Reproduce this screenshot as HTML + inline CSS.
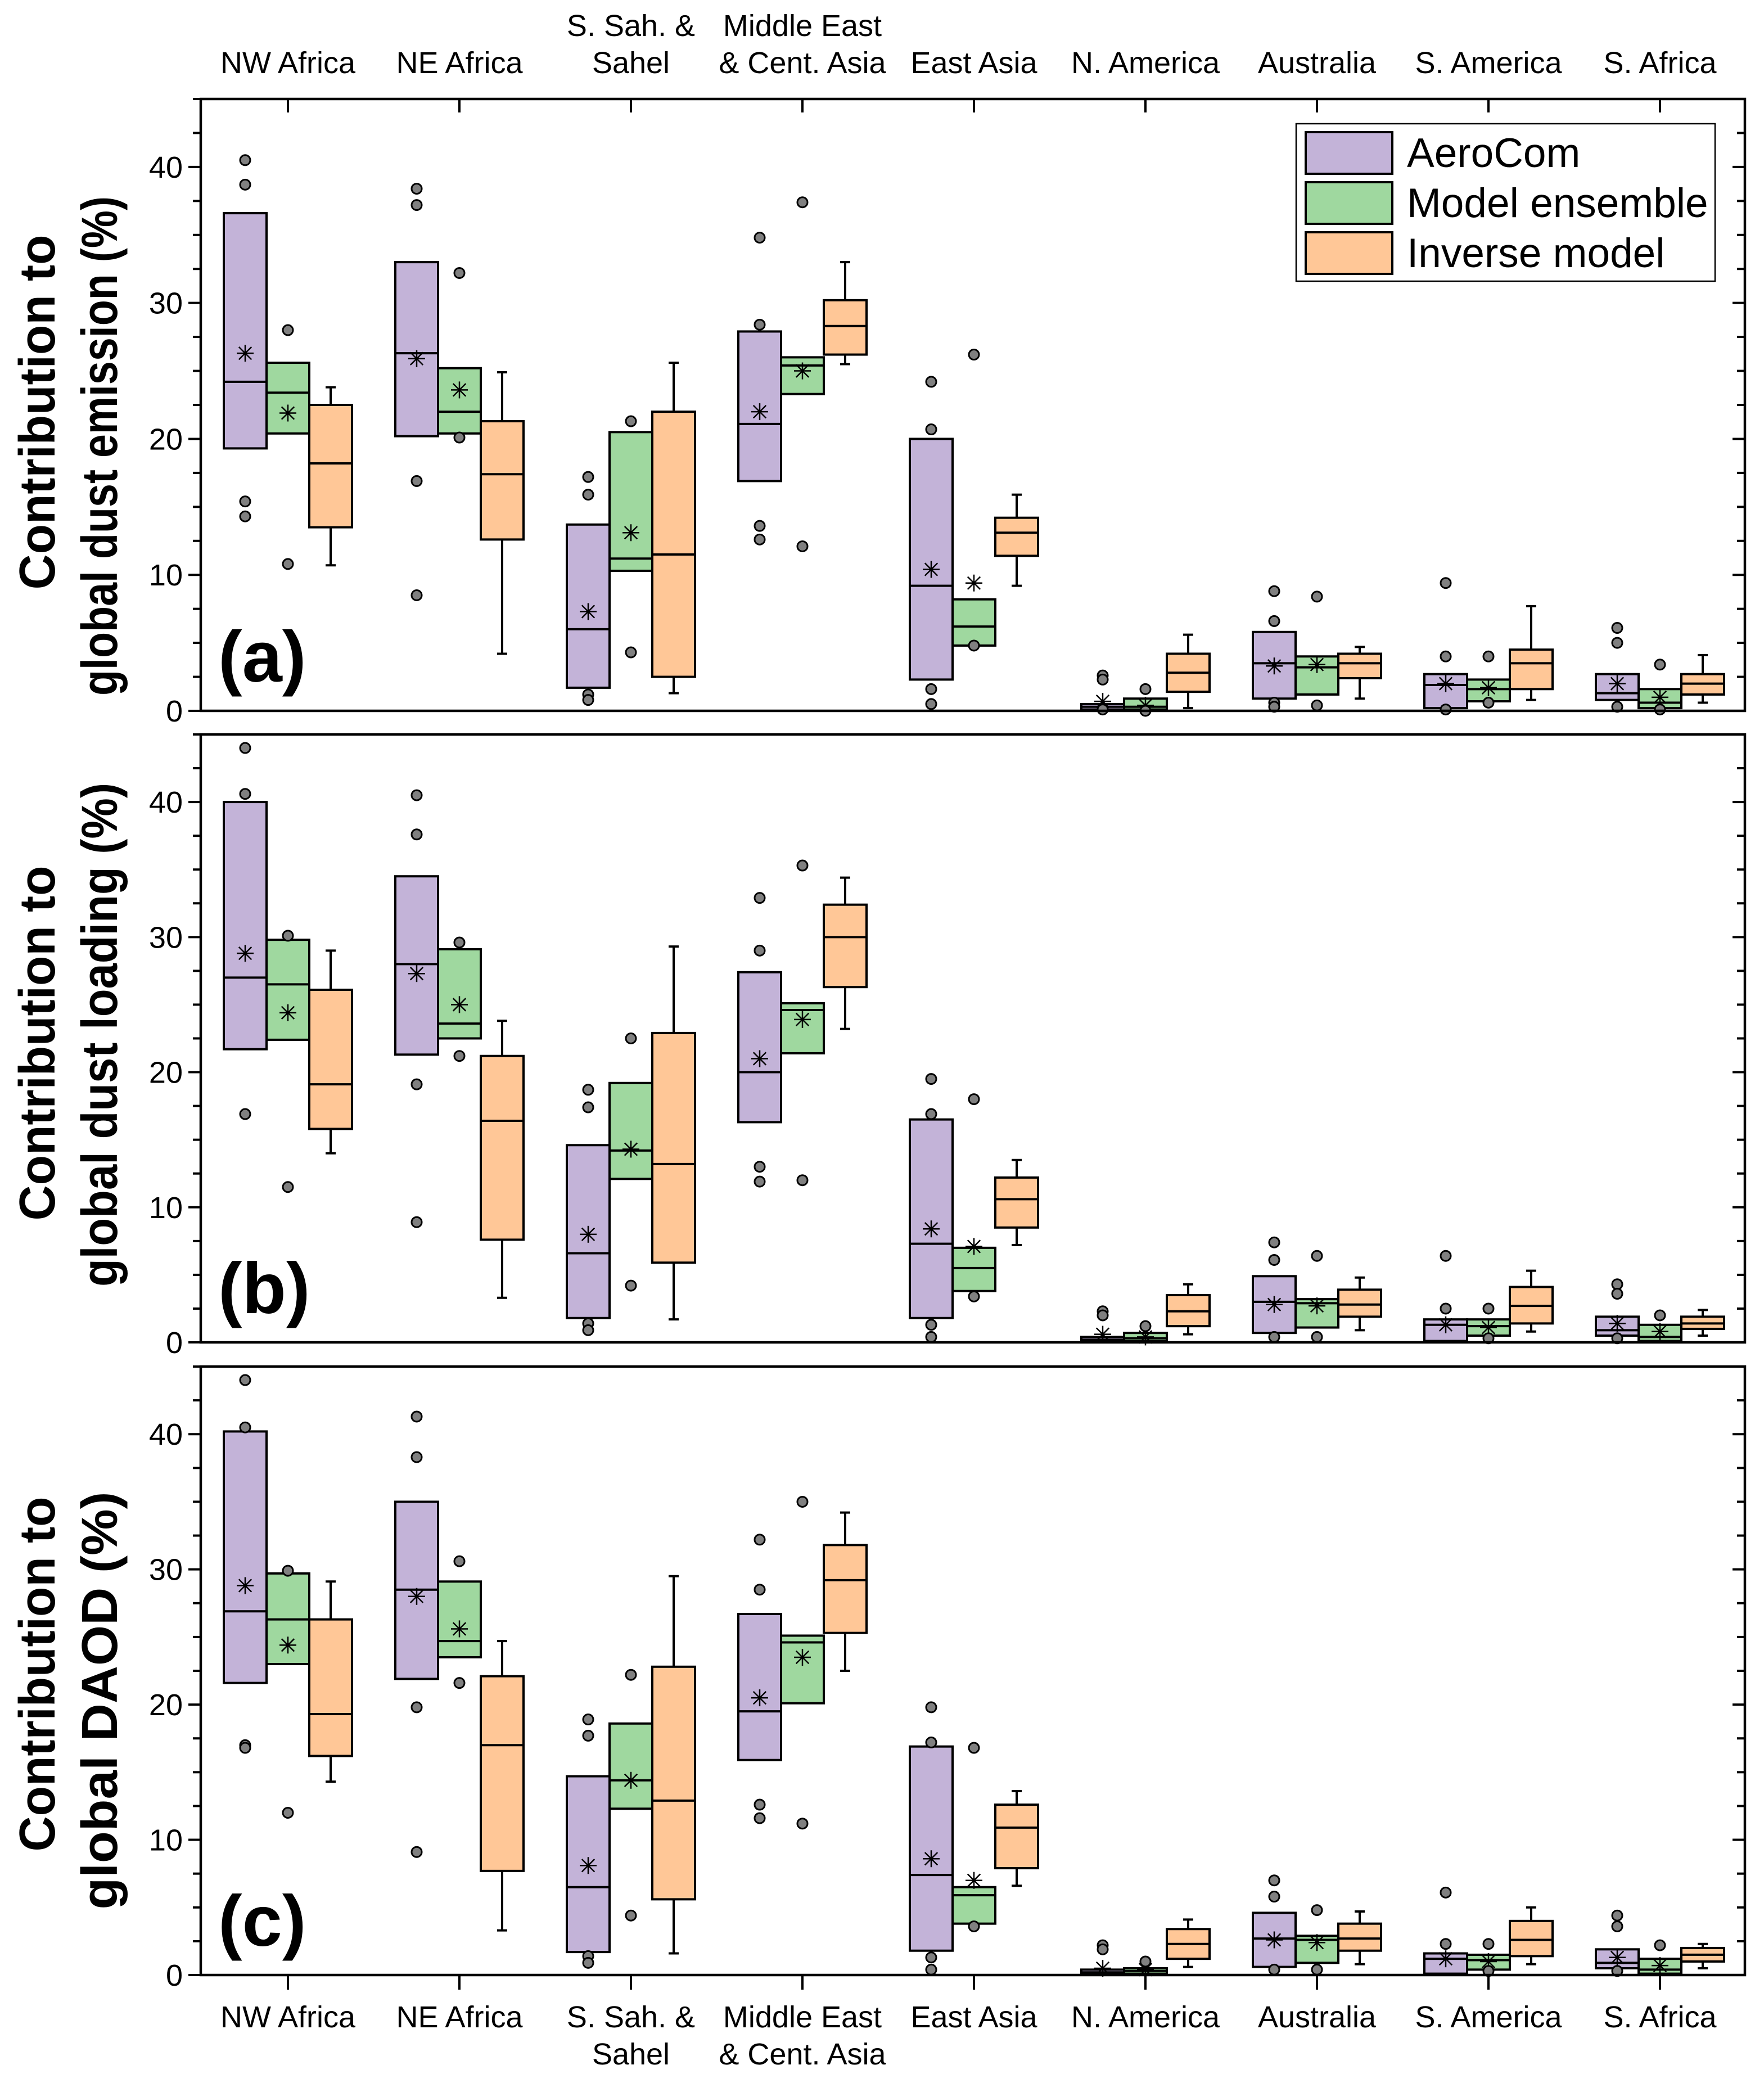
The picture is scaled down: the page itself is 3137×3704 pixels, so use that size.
<!DOCTYPE html>
<html><head><meta charset="utf-8">
<style>
html,body{margin:0;padding:0;background:#fff;}
svg{display:block;font-family:"Liberation Sans",Arial,sans-serif;}
</style></head>
<body>
<svg id="chart" width="3137" height="3704" viewBox="0 0 3137 3704" xmlns="http://www.w3.org/2000/svg"></svg>
<script>
// ---- data ----
const categories = ["NW Africa","NE Africa","S. Sah. &|Sahel","Middle East|& Cent. Asia","East Asia","N. America","Australia","S. America","S. Africa"];
const seriesNames = ["AeroCom","Model ensemble","Inverse model"];
const panelLabels = ["(a)","(b)","(c)"];
const panelTitles = [["Contribution to","global dust emission (%)"],["Contribution to","global dust loading (%)"],["Contribution to","global DAOD (%)"]];
const yTicks = [0,10,20,30,40];
// Panel a - emission: [q1, median, q3, mean]
const aAeroBox = [[19.3,24.2,36.6,26.3],[20.2,26.3,33.0,25.9],[1.7,6.0,13.7,7.3],[16.9,21.1,27.9,22.0],[2.3,9.2,20.0,10.4],[0.1,0.3,0.5,0.7],[0.9,3.5,5.8,3.3],[0.2,1.9,2.7,2.0],[0.8,1.3,2.7,2.0]];
const aAeroOut = [[40.5,38.7,15.4,14.3],[38.4,37.2,16.9,8.5],[17.2,15.9,1.2,0.8],[34.8,28.4,13.6,12.6],[24.2,20.7,1.6,0.5],[2.6,2.3,0.1],[8.8,6.6,0.6,0.3],[9.4,4.0,0.1],[6.1,5.0,0.3]];
const aEnsBox = [[20.4,23.4,25.6,21.9],[20.4,22.0,25.2,23.6],[10.3,11.2,20.5,13.1],[23.3,25.4,26.0,25.0],[4.8,6.2,8.2,9.4],[0.1,0.3,0.9,0.4],[1.2,3.2,4.0,3.4],[0.7,1.6,2.3,1.7],[0.2,0.6,1.6,1.0]];
const aEnsOut = [[28.0,10.8],[32.2,20.1],[21.3,4.3],[37.4,12.1],[26.2,4.8],[1.6,0.0],[8.4,0.4],[4.0,0.6],[3.4,0.1]];
const aInvBox = [[13.5,18.2,22.5],[12.6,17.4,21.3],[2.5,11.5,22.0],[26.2,28.3,30.2],[11.4,13.1,14.2],[1.4,2.8,4.2],[2.4,3.5,4.2],[1.6,3.5,4.5],[1.2,2.0,2.7]];
const aInvWhisk = [[10.7,23.8],[4.2,24.9],[1.3,25.6],[25.5,33.0],[9.2,15.9],[0.2,5.6],[0.9,4.7],[0.8,7.7],[0.6,4.1]];
// Panel b - loading
const bAeroBox = [[21.7,27.0,40.0,28.8],[21.3,28.0,34.5,27.3],[1.8,6.6,14.6,8.0],[16.3,20.0,27.4,21.0],[1.8,7.3,16.5,8.4],[0.1,0.2,0.4,0.6],[0.7,3.0,4.9,2.8],[0.1,1.3,1.7,1.3],[0.5,0.9,1.9,1.4]];
const bAeroOut = [[44.0,40.6,16.9],[40.5,37.6,19.1,8.9],[18.7,17.4,1.4,0.9],[32.9,29.0,13.0,11.9],[19.5,16.9,1.3,0.4],[2.3,2.0],[7.4,6.1,0.4],[6.4,2.5],[4.3,3.6,0.3]];
const bEnsBox = [[22.4,26.5,29.8,24.4],[22.5,23.6,29.1,25.0],[12.1,14.2,19.2,14.3],[21.4,24.6,25.1,23.9],[3.8,5.5,7.0,7.1],[0.1,0.3,0.7,0.4],[1.1,2.9,3.2,2.7],[0.5,1.2,1.7,1.1],[0.1,0.4,1.3,0.8]];
const bEnsOut = [[30.1,11.5],[29.6,21.2],[22.5,4.2],[35.3,12.0],[18.0,3.4],[1.2],[6.4,0.4],[2.5,0.3],[2.0]];
const bInvBox = [[15.8,19.1,26.1],[7.6,16.4,21.2],[5.9,13.2,22.9],[26.3,30.0,32.4],[8.5,10.6,12.2],[1.2,2.3,3.5],[1.9,2.8,3.9],[1.4,2.7,4.1],[1.0,1.4,1.9]];
const bInvWhisk = [[14.0,29.0],[3.3,23.8],[1.7,29.3],[23.2,34.4],[7.2,13.5],[0.6,4.3],[0.9,4.8],[0.8,5.3],[0.5,2.4]];
// Panel c - DAOD
const cAeroBox = [[21.6,26.9,40.2,28.8],[21.9,28.5,35.0,28.0],[1.7,6.5,14.7,8.1],[15.9,19.5,26.7,20.5],[1.8,7.4,16.9,8.6],[0.1,0.2,0.4,0.5],[0.6,2.7,4.6,2.6],[0.1,1.2,1.6,1.2],[0.5,0.9,1.9,1.3]];
const cAeroOut = [[44.0,40.5,17.0,16.8],[41.3,38.3,19.8,9.1],[18.9,17.7,1.4,0.9],[32.2,28.5,12.6,11.6],[19.8,17.2,1.3,0.4],[2.2,1.9],[7.0,5.8,0.4],[6.1,2.3],[4.4,3.6,0.3]];
const cEnsBox = [[23.0,26.3,29.7,24.4],[23.5,24.7,29.1,25.6],[12.3,14.4,18.6,14.4],[20.1,24.6,25.1,23.5],[3.8,5.9,6.5,7.0],[0.1,0.3,0.5,0.4],[0.9,2.6,2.9,2.4],[0.4,1.1,1.5,1.0],[0.1,0.4,1.2,0.7]];
const cEnsOut = [[29.9,12.0],[30.6,21.6],[22.2,4.4],[35.0,11.2],[16.8,3.6],[1.0],[4.8,0.4],[2.3,0.3],[2.2]];
const cInvBox = [[16.2,19.3,26.3],[7.7,17.0,22.1],[5.6,12.9,22.8],[25.3,29.2,31.8],[7.9,10.9,12.6],[1.2,2.3,3.4],[1.8,2.7,3.8],[1.4,2.6,4.0],[1.0,1.5,2.0]];
const cInvWhisk = [[14.3,29.1],[3.3,24.7],[1.6,29.5],[22.5,34.2],[6.6,13.6],[0.6,4.1],[0.8,4.7],[0.8,5.0],[0.5,2.3]];

const panels = [
 {aero:aAeroBox,aeroOut:aAeroOut,ens:aEnsBox,ensOut:aEnsOut,inv:aInvBox,invW:aInvWhisk,top:176,bottom:1264,t1c:733,t2c:793,t2len:888},
 {aero:bAeroBox,aeroOut:bAeroOut,ens:bEnsBox,ensOut:bEnsOut,inv:bInvBox,invW:bInvWhisk,top:1306,bottom:2387,t1c:1855,t2c:1840,t2len:896},
 {aero:cAeroBox,aeroOut:cAeroOut,ens:cEnsBox,ensOut:cEnsOut,inv:cInvBox,invW:cInvWhisk,top:2430,bottom:3512,t1c:2977,t2c:3024,t2len:743}
];
const colors = ["#c3b3d8","#9fd89f","#ffc797"];
const NS="http://www.w3.org/2000/svg";
const svg=document.getElementById('chart');
const L=357,R=3103,X0=512,DX=305,BW=76,YMAX=45;
function xc(i){return X0+i*DX;}
function mk(tag,attrs,parent){const e=document.createElementNS(NS,tag);for(const k in attrs)e.setAttribute(k,attrs[k]);(parent||svg).appendChild(e);return e;}

panels.forEach((p,pi)=>{
  const g=mk('g',{});
  
  
  const y=v=>p.bottom-(v/YMAX)*(p.bottom-p.top);
  for(let v=0;v<=YMAX;v+=2.5){
    const major=v%10===0;
    const t=mk('line',{x1:L-(major?22:14),x2:L,y1:y(v),y2:y(v),stroke:'#000','stroke-width':4},g);
    
    
    mk('line',{x1:R-(major?22:14),x2:R,y1:y(v),y2:y(v),stroke:'#000','stroke-width':4},g);
  }
  yTicks.forEach(v=>{
    const t=mk('text',{x:L-32,y:y(v)+19,'text-anchor':'end','font-size':54},g);
    t.textContent=v;
    
    
  });
  categories.forEach((c,i)=>{
    if(pi===0) mk('line',{x1:xc(i),x2:xc(i),y1:p.top,y2:p.top+24,stroke:'#000','stroke-width':4},g);
    if(pi===2) mk('line',{x1:xc(i),x2:xc(i),y1:p.bottom,y2:p.bottom+26,stroke:'#000','stroke-width':4},g);
  });
  const drawBox=(cx,q1,med,q3,col,name)=>{
    const r=mk('rect',{x:cx-BW/2,y:y(q3),width:BW,height:Math.max(y(q1)-y(q3),1),fill:col,stroke:'#000','stroke-width':4},g);
    
    
    mk('line',{x1:cx-BW/2,x2:cx+BW/2,y1:y(med),y2:y(med),stroke:'#000','stroke-width':4},g);
  };
  const drawStar=(cx,v)=>{
    const s=mk('g',{stroke:'#000','stroke-width':2.5},g);
    
    
    const cy=y(v),h=15;
    mk('line',{x1:cx,x2:cx,y1:cy-h,y2:cy+h},s);
    mk('line',{x1:cx-h,x2:cx+h,y1:cy,y2:cy},s);
    mk('line',{x1:cx-h*0.75,x2:cx+h*0.75,y1:cy-h*0.75,y2:cy+h*0.75},s);
    mk('line',{x1:cx-h*0.75,x2:cx+h*0.75,y1:cy+h*0.75,y2:cy-h*0.75},s);
  };
  const drawOut=(cx,v)=>{
    const c=mk('circle',{cx:cx,cy:y(v),r:9,fill:'#808080',stroke:'#000','stroke-width':3},g);
    
    
  };
  categories.forEach((c,i)=>{
    const cA=xc(i)-BW, cE=xc(i), cI=xc(i)+BW;
    const w=p.invW[i];
    mk('line',{x1:cI,x2:cI,y1:y(w[0]),y2:y(w[1]),stroke:'#000','stroke-width':4},g);
    mk('line',{x1:cI-9,x2:cI+9,y1:y(w[0]),y2:y(w[0]),stroke:'#000','stroke-width':4},g);
    mk('line',{x1:cI-9,x2:cI+9,y1:y(w[1]),y2:y(w[1]),stroke:'#000','stroke-width':4},g);
    const a=p.aero[i],e=p.ens[i],iv=p.inv[i];
    drawBox(cA,a[0],a[1],a[2],colors[0],'aerocom-box');
    drawBox(cE,e[0],e[1],e[2],colors[1],'ensemble-box');
    drawBox(cI,iv[0],iv[1],iv[2],colors[2],'inverse-box');
    drawStar(cA,a[3]); drawStar(cE,e[3]);
    p.aeroOut[i].forEach(v=>drawOut(cA,v));
    p.ensOut[i].forEach(v=>drawOut(cE,v));
  });
  const f=mk('rect',{x:L,y:p.top,width:R-L,height:p.bottom-p.top,fill:'none',stroke:'#000','stroke-width':4.5},g);
  
  
  const pl=mk('text',{x:388,y:p.bottom-52,'font-size':128,'font-weight':'bold'},g);
  pl.textContent=panelLabels[pi];
  
  
  const t1=mk('text',{transform:`translate(97,${p.t1c}) rotate(-90)`,'font-size':90,'font-weight':'bold','text-anchor':'middle',x:0,y:0,textLength:631,lengthAdjust:'spacingAndGlyphs'},g);
  t1.textContent=panelTitles[pi][0];
  
  
  const t2=mk('text',{transform:`translate(208,${p.t2c}) rotate(-90)`,'font-size':90,'font-weight':'bold','text-anchor':'middle',x:0,y:0,textLength:p.t2len,lengthAdjust:'spacingAndGlyphs'},g);
  t2.textContent=panelTitles[pi][1];
  
  
});

categories.forEach((c,i)=>{
  const lines=c.split('|');
  const top=mk('text',{'font-size':54,'text-anchor':'middle'});
  
  
  lines.forEach((ln,k)=>{const ts=mk('tspan',{x:xc(i),y:(lines.length===2?64+k*66:130)},top);ts.textContent=ln;});
  const bot=mk('text',{'font-size':54,'text-anchor':'middle'});
  
  
  lines.forEach((ln,k)=>{const ts=mk('tspan',{x:xc(i),y:3605+k*66},bot);ts.textContent=ln;});
});

const lg=mk('g',{});


mk('rect',{x:2305,y:220,width:745,height:280,fill:'#fff',stroke:'#000','stroke-width':2.5},lg);
seriesNames.forEach((n,k)=>{
  const cy=272+k*89;
  const sw=mk('rect',{x:2322,y:cy-37,width:154,height:74,fill:colors[k],stroke:'#000','stroke-width':4},lg);
  
  
  const t=mk('text',{x:2502,y:cy+25,'font-size':73},lg);
  t.textContent=n;
  
  
});
</script>
</body></html>
